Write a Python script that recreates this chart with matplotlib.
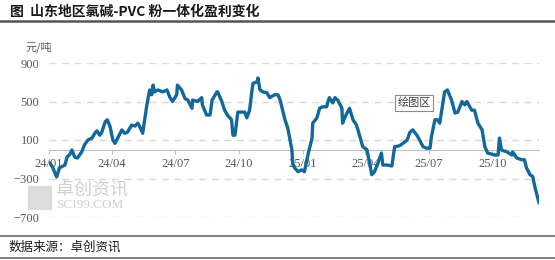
import pandas as pd
import matplotlib.pyplot as plt
import matplotlib.dates as mdates
from matplotlib.patches import Rectangle

plt.rcParams['font.family'] = ['Noto Sans CJK SC', 'DejaVu Sans']

# 山东地区氯碱-PVC粉一体化盈利 (元/吨), 读图估计
fechas = [
    '2024-01-02', '2024-01-06', '2024-01-12', '2024-01-16', '2024-01-24', '2024-01-27',
    '2024-01-31', '2024-02-03', '2024-02-07', '2024-02-11', '2024-02-17', '2024-02-21',
    '2024-02-26', '2024-03-03', '2024-03-07', '2024-03-10', '2024-03-14', '2024-03-17',
    '2024-03-22', '2024-03-25', '2024-03-29', '2024-04-02', '2024-04-05', '2024-04-09',
    '2024-04-15', '2024-04-19', '2024-04-23', '2024-04-29', '2024-05-04', '2024-05-08',
    '2024-05-11', '2024-05-15', '2024-05-21', '2024-05-22', '2024-05-25', '2024-05-28',
    '2024-05-30', '2024-06-01', '2024-06-06', '2024-06-13', '2024-06-19', '2024-06-23',
    '2024-06-27', '2024-07-03', '2024-07-04', '2024-07-10', '2024-07-15', '2024-07-19',
    '2024-07-25', '2024-07-26', '2024-08-02', '2024-08-08', '2024-08-09', '2024-08-15',
    '2024-08-20', '2024-08-23', '2024-08-30', '2024-08-31', '2024-09-06', '2024-09-10',
    '2024-09-14', '2024-09-20', '2024-09-22', '2024-09-25', '2024-09-29', '2024-10-09',
    '2024-10-12', '2024-10-16', '2024-10-19', '2024-10-21', '2024-10-27', '2024-10-28',
    '2024-10-31', '2024-11-04', '2024-11-10', '2024-11-14', '2024-11-21', '2024-11-26',
    '2024-11-29', '2024-12-06', '2024-12-10', '2024-12-16', '2024-12-17', '2024-12-20',
    '2024-12-25', '2024-12-30', '2025-01-03', '2025-01-08', '2025-01-14', '2025-01-15',
    '2025-01-21', '2025-01-25', '2025-01-29', '2025-02-04', '2025-02-06', '2025-02-08',
    '2025-02-13', '2025-02-16', '2025-02-20', '2025-02-26', '2025-02-27', '2025-03-02',
    '2025-03-06', '2025-03-09', '2025-03-14', '2025-03-19', '2025-03-24', '2025-03-28',
    '2025-04-03', '2025-04-07', '2025-04-10', '2025-04-14', '2025-04-19', '2025-04-24',
    '2025-04-26', '2025-05-02', '2025-05-09', '2025-05-13', '2025-05-20', '2025-05-25',
    '2025-05-31', '2025-06-04', '2025-06-08', '2025-06-14', '2025-06-18', '2025-06-23',
    '2025-06-28', '2025-07-03', '2025-07-05', '2025-07-10', '2025-07-14', '2025-07-17',
    '2025-07-21', '2025-07-24', '2025-07-28', '2025-08-03', '2025-08-08', '2025-08-12',
    '2025-08-18', '2025-08-22', '2025-08-25', '2025-09-01', '2025-09-05', '2025-09-10',
    '2025-09-16', '2025-09-20', '2025-09-24', '2025-10-04', '2025-10-09', '2025-10-11',
    '2025-10-14', '2025-10-22', '2025-10-29', '2025-10-30', '2025-11-05', '2025-11-12',
    '2025-11-16', '2025-11-19', '2025-11-24', '2025-11-28', '2025-12-01', '2025-12-04',
    '2025-12-07',
]
beneficio = [
    -139, -180, -284, -190, -160, -77,
    -50, -4, -77, -87, -25, 48,
    100, 120, 170, 195, 150, 180,
    290, 310, 240, 100, 65, 120,
    205, 170, 180, 255, 245, 275,
    235, 170, 465, 500, 620, 570,
    670, 600, 620, 600, 620, 545,
    500, 570, 670, 620, 530, 515,
    430, 515, 500, 540, 465, 360,
    360, 515, 600, 600, 500, 410,
    360, 310, 150, 150, 390, 390,
    330, 410, 590, 690, 705, 745,
    620, 600, 590, 540, 570, 570,
    515, 310, 225, -4, -139, -190,
    -230, -210, -230, -56, 120, 275,
    330, 430, 445, 445, 500, 540,
    485, 540, 515, 430, 275, 330,
    390, 430, 310, 255, 135, 30,
    0, -139, -260, -230, -139, -35,
    -160, -160, -170, 30, 40, 65,
    100, 180, 205, 150, 100, 30,
    15, 15, 135, 310, 310, 275,
    465, 600, 620, 515, 380, 390,
    500, 465, 500, 410, 410, 275,
    205, 30, -35, -56, -56, 120,
    -4, -25, -56, -25, -87, -105,
    -105, -190, -260, -280, -385, -470,
    -550,
]
ticks_y = [-700, -300, 100, 500, 900]
ticks_x = ['2024-01-01', '2024-04-01', '2024-07-01', '2024-10-01',
           '2025-01-01', '2025-04-01', '2025-07-01', '2025-10-01']

x = pd.to_datetime(fechas)
gris = '#595959'

fig = plt.figure(figsize=(5.55, 2.6), dpi=100)
ax = fig.add_axes([49/555, 1 - 217/260, 490/555, 154/260])

ax.plot(x, beneficio, color='#11689A', linewidth=2.4, solid_joinstyle='round', zorder=3)

# Ejes
ax.set_ylim(-700, 900)
ax.set_yticks(ticks_y)
ax.set_xlim(pd.Timestamp('2024-01-01'), x[-1])
ax.set_xticks(pd.to_datetime(ticks_x))
ax.xaxis.set_major_formatter(mdates.DateFormatter('%y/%m'))
ax.grid(axis='y', color='#D9D9D9', linestyle=(0, (5, 4)), linewidth=1)
ax.set_axisbelow(True)

for s in ['top', 'right', 'left']:
    ax.spines[s].set_visible(False)
ax.spines['bottom'].set_position(('data', 0))
ax.spines['bottom'].set_color('#BFBFBF')
ax.tick_params(axis='x', colors='#BFBFBF', length=3, pad=3, labelcolor=gris)
ax.tick_params(axis='y', length=0, pad=7, labelcolor=gris)
for lab in ax.get_xticklabels() + ax.get_yticklabels():
    lab.set_fontfamily('Liberation Serif')
    lab.set_fontsize(9)

# Titulo y textos
fig.text(10/555, 1 - 12/260, '图  山东地区氯碱-PVC 粉一体化盈利变化', fontsize=10,
         fontweight='bold', color='#1a1a1a', va='center', ha='left')
fig.add_artist(plt.Line2D([0, 1], [1 - 21/260, 1 - 21/260], color='#555555', linewidth=1.8))
fig.text(26/555, 1 - 47/260, '元/吨', fontsize=8, color=gris, va='center', ha='left')
fig.add_artist(plt.Line2D([0, 1], [1 - 236/260, 1 - 236/260], color='#7f7f7f', linewidth=1.4))
fig.add_artist(plt.Line2D([0, 1], [1 - 258/260, 1 - 258/260], color='#7f7f7f', linewidth=1.4))
fig.text(9/555, 1 - 247/260, '数据来源：卓创资讯', fontsize=9, color='#1a1a1a',
         va='center', ha='left')

# Marca de agua
for i in range(3):
    for j in range(3):
        fig.patches.append(Rectangle(((28 + i*8)/555, 1 - (209 - j*8)/260), 7/555, 7/260,
                                     transform=fig.transFigure, color='#DCDCDC', zorder=0))
fig.text(56/555, 1 - 190/260, '卓创资讯', fontsize=13, color='#D0D0D0', va='center', ha='left')
fig.text(56/555, 1 - 205/260, 'SCI99.COM', fontsize=9.5, color='#D0D0D0', va='center',
         ha='left', family='Liberation Serif')

# Etiqueta
fig.text(414/555, 1 - 103/260, '绘图区', fontsize=8, color='#404040', va='center', ha='center',
         bbox=dict(boxstyle='square,pad=0.25', facecolor='white', edgecolor='#8c8c8c', linewidth=0.8))

fig.savefig('out.png', dpi=100)
